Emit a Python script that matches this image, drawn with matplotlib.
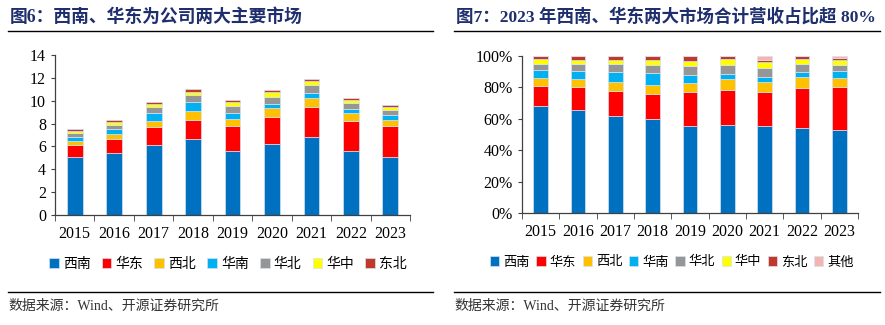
import numpy as np
import matplotlib
matplotlib.use("Agg")
import matplotlib.pyplot as plt
from matplotlib.lines import Line2D
from matplotlib.ticker import FixedLocator, PercentFormatter

plt.rcParams['font.family'] = ['Liberation Serif', 'Noto Sans CJK SC', 'DejaVu Sans']

years = ['2015', '2016', '2017', '2018', '2019', '2020', '2021', '2022', '2023']
regions = ['西南', '华东', '西北', '华南', '华北', '华中', '东北', '其他']
colors = ['#0070C0', '#FF0000', '#FFC000', '#00B0F0', '#969696', '#FFFF00', '#C0392B', '#F2B5B0']

# revenue by region (left chart)
xinan = [5.10, 5.40, 6.15, 6.62, 5.60, 6.18, 6.80, 5.57, 5.10]
huadong = [1.00, 1.22, 1.55, 1.72, 2.19, 2.39, 2.65, 2.62, 2.69]
xibei = [0.38, 0.44, 0.52, 0.73, 0.61, 0.79, 0.79, 0.73, 0.52]
huanan = [0.34, 0.49, 0.70, 0.79, 0.52, 0.38, 0.43, 0.32, 0.47]
huabei = [0.33, 0.35, 0.50, 0.61, 0.62, 0.61, 0.67, 0.56, 0.41]
huazhong = [0.20, 0.24, 0.26, 0.29, 0.38, 0.38, 0.38, 0.26, 0.26]
dongbei = [0.15, 0.14, 0.21, 0.23, 0.17, 0.18, 0.21, 0.18, 0.17]

# share of revenue by region, % (right chart)
xinan_pct = [68.0, 65.3, 62.1, 59.7, 55.7, 56.1, 55.3, 54.4, 53.0]
huadong_pct = [13.1, 15.0, 15.4, 15.9, 21.2, 22.1, 21.6, 25.3, 27.3]
xibei_pct = [4.7, 4.9, 5.8, 6.0, 5.9, 7.0, 6.6, 6.7, 5.7]
huanan_pct = [5.3, 5.3, 6.3, 7.4, 5.3, 3.4, 3.4, 3.4, 4.5]
huabei_pct = [3.8, 4.4, 5.3, 5.5, 5.8, 5.9, 5.3, 5.1, 4.0]
huazhong_pct = [3.0, 2.6, 2.6, 3.0, 3.1, 3.4, 3.8, 3.0, 3.0]
dongbei_pct = [2.1, 2.5, 2.5, 2.5, 3.0, 2.1, 1.5, 2.1, 1.2]
other_pct = [0.0, 0.0, 0.0, 0.0, 0.0, 0.0, 2.5, 0.0, 1.3]

left_series = [xinan, huadong, xibei, huanan, huabei, huazhong, dongbei]
right_series = [xinan_pct, huadong_pct, xibei_pct, huanan_pct, huabei_pct,
                huazhong_pct, dongbei_pct, other_pct]

title_color = '#1F2F6E'
cjk = ['Noto Sans CJK SC', 'DejaVu Sans']
mixed = ['Liberation Serif', 'Noto Sans CJK SC']


def stacked(ax, series):
    x = np.arange(len(years))
    bottom = np.zeros(len(years))
    for vals, c, name in zip(series, colors, regions):
        vals = np.array(vals)
        ax.bar(x, vals, 0.4, bottom=bottom, color=c, edgecolor='#D5E3F0',
               linewidth=0.5, label=name)
        bottom += vals
    ax.set_xlim(-0.5, len(years) - 0.5)
    ax.set_xticks(x)
    ax.set_xticklabels(years)
    ax.xaxis.set_minor_locator(FixedLocator(np.arange(-0.5, len(years), 1.0)))
    ax.tick_params(axis='x', which='major', length=0, pad=8, labelsize=11.5)
    ax.tick_params(axis='x', which='minor', length=4, direction='out', color='#404040')
    ax.tick_params(axis='y', length=3, direction='out', labelsize=11.5, color='#404040')
    for s in ['top', 'right']:
        ax.spines[s].set_visible(False)
    for s in ['left', 'bottom']:
        ax.spines[s].set_color('#404040')
        ax.spines[s].set_linewidth(0.9)


fig = plt.figure(figsize=(8.85, 3.25), dpi=100)

ax1 = fig.add_axes([55 / 885, 1 - 215 / 325, 355 / 885, 160 / 325])
stacked(ax1, left_series)
ax1.set_ylim(0, 14)
ax1.set_yticks(range(0, 15, 2))

ax2 = fig.add_axes([522 / 885, 1 - 213 / 325, 336 / 885, 157 / 325])
stacked(ax2, right_series)
ax2.set_ylim(0, 100)
ax2.set_yticks(range(0, 101, 20))
ax2.yaxis.set_major_formatter(PercentFormatter(decimals=0))

# titles
fig.text(10 / 885, 1 - 17 / 325, '图6：西南、华东为公司两大主要市场', family=mixed,
         fontsize=12.8, fontweight='bold', color=title_color, va='center')
fig.text(456 / 885, 1 - 17 / 325, '图7：2023 年西南、华东两大市场合计营收占比超 80%', family=mixed,
         fontsize=12.6, fontweight='bold', color=title_color, va='center')

# rules
for x0, x1 in [(8, 433), (454, 880)]:
    for yy in [31, 292]:
        fig.add_artist(Line2D([x0 / 885, x1 / 885], [1 - yy / 325, 1 - yy / 325],
                              color='black', linewidth=1.0))

# legends
h1, l1 = ax1.get_legend_handles_labels()
fig.legend(h1, l1, loc='center', bbox_to_anchor=(228 / 885, 1 - 264 / 325), ncol=7,
           frameon=False, prop={'family': cjk, 'size': 10}, handlelength=0.7,
           handleheight=0.7, handletextpad=0.3, columnspacing=0.8)
h2, l2 = ax2.get_legend_handles_labels()
fig.legend(h2, l2, loc='center', bbox_to_anchor=(672 / 885, 1 - 262 / 325), ncol=8,
           frameon=False, prop={'family': cjk, 'size': 9.5}, handlelength=0.7,
           handleheight=0.7, handletextpad=0.3, columnspacing=0.5)

# sources
for x0 in [8, 454]:
    fig.text(x0 / 885, 1 - 306 / 325, '数据来源：Wind、开源证券研究所', family=mixed,
             fontsize=10, color='#333333', va='center')

fig.savefig('out.png', dpi=100)
